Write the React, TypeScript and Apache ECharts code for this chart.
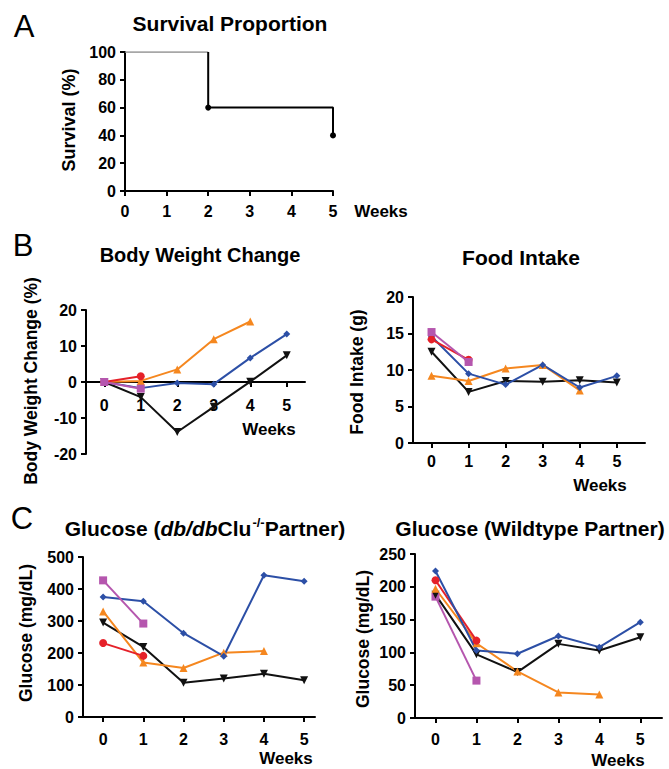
import React, { useEffect, useRef } from "react";
import * as echarts from "echarts";

// ---------- data ----------
const weeks = [0, 1, 2, 3, 4, 5];

const survWeeks = [0, 2, 5];
const survPct = [100, 60, 40];

// Body weight change (%)
const bwRed = [0, 1.6];
const bwOrange = [0, 0.3, 3.5, 11.9, 16.8];
const bwBlue = [0, -1.7, -0.3, -0.6, 6.7, 13.3];
const bwBlack = [0, -4.2, -13.9, -6.9, 0.1, 7.4];
const bwMagenta = [0, -1.85];

// Food intake (g)
const fiMagenta = [15.2, 11.1];
const fiRed = [14.2, 11.4];
const fiBlue = [14.6, 9.5, 8.0, 10.7, 7.6, 9.2];
const fiBlack = [12.5, 7.0, 8.5, 8.4, 8.6, 8.3];
const fiOrange = [9.2, 8.5, 10.2, 10.7, 7.2];

// Glucose, db/db Clu-/- partner (mg/dL)
const gkMagenta = [427, 292];
const gkBlue = [375, 362, 262, 190, 443, 424];
const gkOrange = [330, 170, 153, 201, 206];
const gkBlack = [295, 219, 107, 120, 135, 115];
const gkRed = [231, 191];

// Glucose, wildtype partner (mg/dL)
const gwBlue = [224, 103, 98, 125, 108, 146];
const gwRed = [210, 118];
const gwOrange = [197, 114, 71, 39, 36];
const gwBlack = [188, 97, 70, 113, 103, 123];
const gwMagenta = [185, 57];

// ---------- styles ----------
const FONT = "'Liberation Sans', Arial, Helvetica, sans-serif";
const C = {
  blue: "#2c4fa6",
  orange: "#f5871f",
  red: "#e52129",
  magenta: "#b556ae",
  black: "#111111",
};

const SYM: Record<string, { symbol: string; size: number; rotate?: number }> = {
  blue: { symbol: "diamond", size: 7 },
  orange: { symbol: "triangle", size: 8 },
  red: { symbol: "circle", size: 8 },
  magenta: { symbol: "rect", size: 8 },
  black: { symbol: "triangle", size: 8, rotate: 180 },
};

function lineSeries(idx: number, key: keyof typeof C, values: number[]) {
  const s = SYM[key];
  return {
    type: "line",
    xAxisIndex: idx,
    yAxisIndex: idx,
    data: values.map((v, i) => [weeks[i], v]),
    symbol: s.symbol,
    symbolSize: s.size,
    symbolRotate: s.rotate || 0,
    showSymbol: true,
    lineStyle: { color: C[key], width: 2 },
    itemStyle: { color: C[key] },
    emphasis: { disabled: true },
  };
}

const grids = [
  { left: 125, top: 52, width: 208, height: 139 },
  { left: 86, top: 310, width: 219, height: 144 },
  { left: 413, top: 297, width: 232, height: 146 },
  { left: 83, top: 557, width: 232, height: 160 },
  { left: 415, top: 554, width: 247, height: 164 },
];

const yRanges = [
  { min: 0, max: 100, interval: 20 },
  { min: -20, max: 20, interval: 10 },
  { min: 0, max: 20, interval: 5 },
  { min: 0, max: 500, interval: 100 },
  { min: 0, max: 250, interval: 50 },
];

function xAxis(idx: number, min: number, max: number, margin: number) {
  // place the x axis at y = 0 (inside the grid when y has negative values)
  const yr = yRanges[idx];
  const zeroFrac = (0 - yr.min) / (yr.max - yr.min);
  const offset = -grids[idx].height * zeroFrac;
  return {
    type: "value",
    gridIndex: idx,
    position: "bottom",
    offset,
    min,
    max,
    axisLine: { show: true, onZero: false, lineStyle: { color: "#000", width: 2 } },
    axisTick: { show: true, inside: false, length: 5, lineStyle: { color: "#000", width: 2 }, customValues: weeks },
    axisLabel: { customValues: weeks, fontSize: 16, fontWeight: "bold", color: "#000", margin, fontFamily: FONT },
    splitLine: { show: false },
  };
}

function yAxis(idx: number) {
  const yr = yRanges[idx];
  return {
    type: "value",
    gridIndex: idx,
    min: yr.min,
    max: yr.max,
    interval: yr.interval,
    axisLine: { show: true, onZero: false, lineStyle: { color: "#000", width: 2 } },
    axisTick: { show: true, inside: false, length: 5, lineStyle: { color: "#000", width: 2 } },
    axisLabel: { fontSize: 16, fontWeight: "bold", color: "#000", margin: 9, fontFamily: FONT },
    splitLine: { show: false },
  };
}

function txt(x: number, y: number, text: string, size: number, bold = true, rotate = 0) {
  return {
    type: "text",
    x,
    y,
    rotation: rotate,
    silent: true,
    style: {
      text,
      fontSize: size,
      fontWeight: bold ? "bold" : "normal",
      fontFamily: FONT,
      fill: "#000",
      align: "center",
      verticalAlign: "middle",
      textAlign: "center",
      textVerticalAlign: "middle",
    },
  };
}

function buildOption() {
  // survival step curve built from the data arrays
  const grayPart = [
    [survWeeks[0], survPct[0]],
    [survWeeks[1], survPct[0]],
  ];
  const blackPart: any[] = [{ value: [survWeeks[1], survPct[0]], symbol: "none" }];
  for (let i = 1; i < survWeeks.length; i++) blackPart.push([survWeeks[i], survPct[i]]);

  const series: any[] = [
    {
      type: "line",
      xAxisIndex: 0,
      yAxisIndex: 0,
      data: grayPart,
      showSymbol: false,
      symbol: "none",
      lineStyle: { color: "#8a8a8a", width: 1.3 },
      emphasis: { disabled: true },
    },
    {
      type: "line",
      xAxisIndex: 0,
      yAxisIndex: 0,
      step: "end",
      data: blackPart,
      symbol: "circle",
      symbolSize: 6,
      lineStyle: { color: "#000", width: 2 },
      itemStyle: { color: "#000" },
      emphasis: { disabled: true },
    },
    // B left
    lineSeries(1, "black", bwBlack),
    lineSeries(1, "blue", bwBlue),
    lineSeries(1, "orange", bwOrange),
    lineSeries(1, "red", bwRed),
    lineSeries(1, "magenta", bwMagenta),
    // B right
    lineSeries(2, "black", fiBlack),
    lineSeries(2, "orange", fiOrange),
    lineSeries(2, "blue", fiBlue),
    lineSeries(2, "red", fiRed),
    lineSeries(2, "magenta", fiMagenta),
    // C left
    lineSeries(3, "black", gkBlack),
    lineSeries(3, "orange", gkOrange),
    lineSeries(3, "blue", gkBlue),
    lineSeries(3, "red", gkRed),
    lineSeries(3, "magenta", gkMagenta),
    // C right
    lineSeries(4, "magenta", gwMagenta),
    lineSeries(4, "black", gwBlack),
    lineSeries(4, "orange", gwOrange),
    lineSeries(4, "red", gwRed),
    lineSeries(4, "blue", gwBlue),
  ];

  const graphic: any[] = [
    txt(24, 26, "A", 31, false),
    txt(23, 245, "B", 31, false),
    txt(22, 518, "C", 31, false),
    txt(230, 23, "Survival Proportion", 21),
    txt(200, 255, "Body Weight Change", 20),
    txt(521, 257, "Food Intake", 21),
    txt(530, 528, "Glucose (Wildtype Partner)", 21),
    {
      type: "text",
      x: 205,
      y: 528,
      silent: true,
      style: {
        text: "{a|Glucose (}{i|db/db}{a|Clu}{s|-/-}{a|Partner)}",
        align: "center",
        verticalAlign: "middle",
        textAlign: "center",
        textVerticalAlign: "middle",
        fill: "#000",
        rich: {
          a: { fontSize: 21, fontWeight: "bold", fontFamily: FONT, fill: "#000", lineHeight: 24 },
          i: { fontSize: 21, fontWeight: "bold", fontStyle: "italic", fontFamily: FONT, fill: "#000", lineHeight: 24 },
          s: { fontSize: 13, fontWeight: "bold", fontFamily: FONT, fill: "#000", verticalAlign: "top", lineHeight: 24, padding: [0, 0, 0, 1] },
        },
      },
    },
    txt(69, 120, "Survival (%)", 18, true, Math.PI / 2),
    txt(31, 381, "Body Weight Change (%)", 17.5, true, Math.PI / 2),
    txt(357, 372, "Food Intake (g)", 17.5, true, Math.PI / 2),
    txt(26, 633, "Glucose (mg/dL)", 17.5, true, Math.PI / 2),
    txt(363, 639, "Glucose (mg/dL)", 17.5, true, Math.PI / 2),
    txt(381, 211, "Weeks", 17),
    txt(269, 429, "Weeks", 17),
    txt(600, 485, "Weeks", 17),
    txt(286, 758, "Weeks", 17),
    txt(618, 760, "Weeks", 17),
  ];

  return {
    animation: false,
    backgroundColor: "#ffffff",
    grid: grids,
    xAxis: [
      xAxis(0, 0, 5, 12),
      xAxis(1, -0.5, 5.5, 15),
      xAxis(2, -0.5, 5.76, 10),
      xAxis(3, -0.5, 5.27, 14),
      xAxis(4, -0.5, 5.53, 13),
    ],
    yAxis: [yAxis(0), yAxis(1), yAxis(2), yAxis(3), yAxis(4)],
    series,
    graphic,
  };
}

export default function App() {
  const ref = useRef<HTMLDivElement>(null);
  useEffect(() => {
    document.body.style.margin = "0";
    const chart = echarts.init(ref.current!, null, { renderer: "svg" });
    chart.setOption(buildOption() as any);
    return () => chart.dispose();
  }, []);
  return <div ref={ref} style={{ width: 669, height: 769 }} />;
}
